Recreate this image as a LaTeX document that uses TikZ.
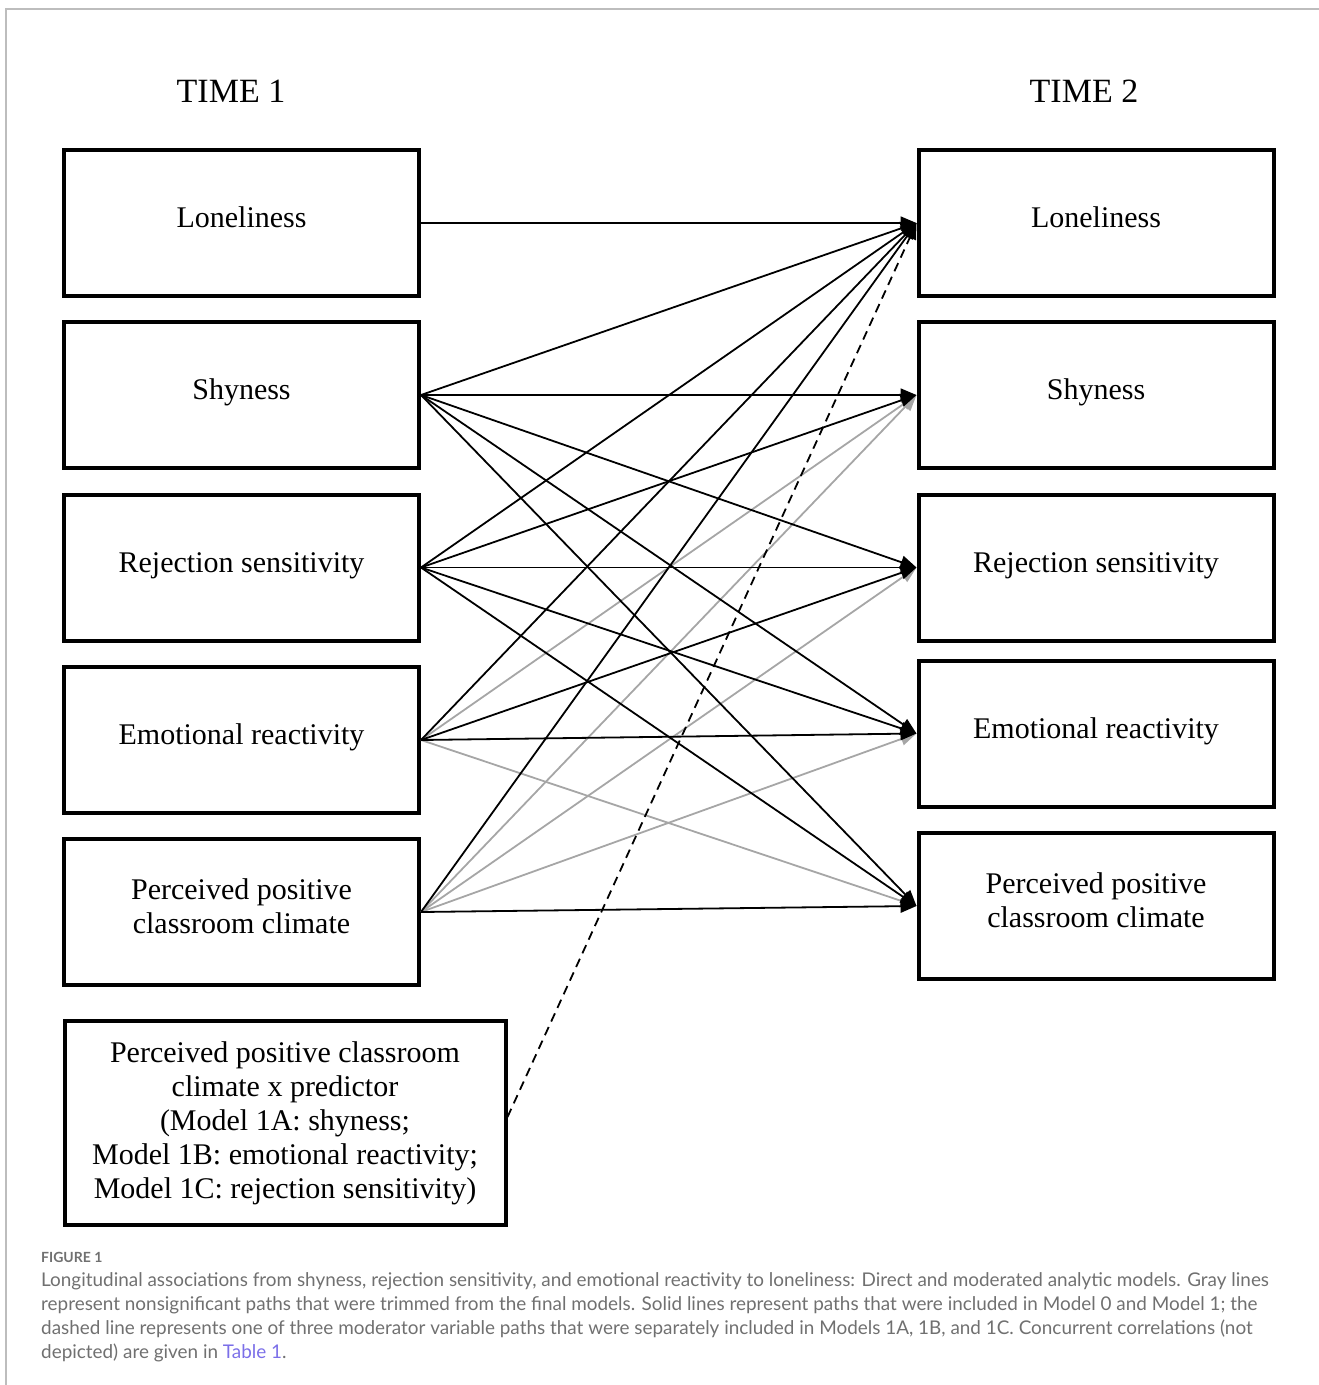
\documentclass[tikz,border=0pt]{standalone}
\usepackage{fontspec}
\setmainfont{Liberation Serif}
\newfontfamily\capfont{Lato}
\usetikzlibrary{arrows.meta}
\definecolor{frameline}{HTML}{BDBDBD}
\definecolor{trimmed}{HTML}{A6A6A6}
\definecolor{captext}{HTML}{707070}
\definecolor{tablelink}{HTML}{7B6FE8}

\begin{document}
\begin{tikzpicture}[x=1pt,y=-1pt,
    varbox/.style={draw,line width=4pt,minimum width=355pt,minimum height=146pt,
      align=center,font=\fontsize{30}{34}\selectfont},
    oneline/.style={text height=21pt,text depth=12pt},
    heading/.style={font=\fontsize{34}{40}\selectfont},
    sig/.style={line width=1.8pt,-{Triangle[length=16pt,width=13pt]}},
    nonsig/.style={sig,trimmed},
    moder/.style={line width=1.8pt,dash pattern=on 9pt off 6pt,-{Triangle[length=16pt,width=13pt]}},
    captline/.style={anchor=base west,inner sep=0pt,text=captext,
      font=\capfont\fontsize{18.9}{24}\selectfont}]
      \useasboundingbox (0,0) rectangle (1319,1385) ;
      \draw[frameline,line width=2pt] (6,1385)--(6,9)--(1319,9) ;
      % headings
      \node[heading] (t1) at (231,91) {TIME 1} ;
      \node[heading] (t2) at (1084,91) {TIME 2} ;
      % time 1
      \node[varbox,oneline] (lonA) at (241.5,223) {Loneliness} ;
      \node[varbox,oneline] (shyA) at (241.5,395) {Shyness} ;
      \node[varbox,oneline] (rejA) at (241.5,567.5) {Rejection sensitivity} ;
      \node[varbox,oneline] (emoA) at (241.5,740) {Emotional reactivity} ;
      \node[varbox] (clmA) at (241.5,912) {Perceived positive\\classroom climate\rule[-12pt]{0pt}{0pt}} ;
      \node[varbox,minimum width=441pt,minimum height=204pt] (modA) at (285,1123)
        {Perceived positive classroom\\climate x predictor\\(Model 1A: shyness;\\%
         Model 1B: emotional reactivity;\\Model 1C: rejection sensitivity)} ;
      % time 2
      \node[varbox,oneline] (lonB) at (1096,223) {Loneliness} ;
      \node[varbox,oneline] (shyB) at (1096,395) {Shyness} ;
      \node[varbox,oneline] (rejB) at (1096,567.5) {Rejection sensitivity} ;
      \node[varbox,oneline] (emoB) at (1096,733.5) {Emotional reactivity} ;
      \node[varbox] (clmB) at (1096,906) {Perceived positive\\classroom climate\rule[-12pt]{0pt}{0pt}} ;
      % trimmed paths first, so the black ones lie on top
      \foreach \a/\b in {emoA/shyB,emoA/clmB,clmA/shyB,clmA/rejB,clmA/emoB}
        \draw[nonsig] (\a.east) -- (\b.west) ;
      \foreach \a/\b in {lonA/lonB,shyA/lonB,shyA/shyB,shyA/rejB,shyA/emoB,shyA/clmB,%
        rejA/lonB,rejA/shyB,rejA/rejB,rejA/emoB,rejA/clmB,%
        emoA/lonB,emoA/rejB,emoA/emoB,clmA/lonB,clmA/clmB}
        \draw[sig] (\a.east) -- (\b.west) ;
      \draw[moder] ([yshift=6pt]modA.east) -- (lonB.west) ;
      % caption
      \node[captline,font=\capfont\bfseries\fontsize{14}{16}\selectfont] (fig) at (41,1262) {FIGURE 1} ;
      \node[captline] (cap1) at (41,1286) {Longitudinal associations from shyness, rejection sensitivity, and emotional reactivity to loneliness: Direct and moderated analytic models. Gray lines} ;
      \node[captline] (cap2) at (41,1310) {represent nonsignificant paths that were trimmed from the final models. Solid lines represent paths that were included in Model 0 and Model 1; the} ;
      \node[captline] (cap3) at (41,1334) {dashed line represents one of three moderator variable paths that were separately included in Models 1A, 1B, and 1C. Concurrent correlations (not} ;
      \node[captline] (cap4) at (41,1358) {depicted) are given in \textcolor{tablelink}{Table 1}.} ;
    \end{tikzpicture}
\end{document}
